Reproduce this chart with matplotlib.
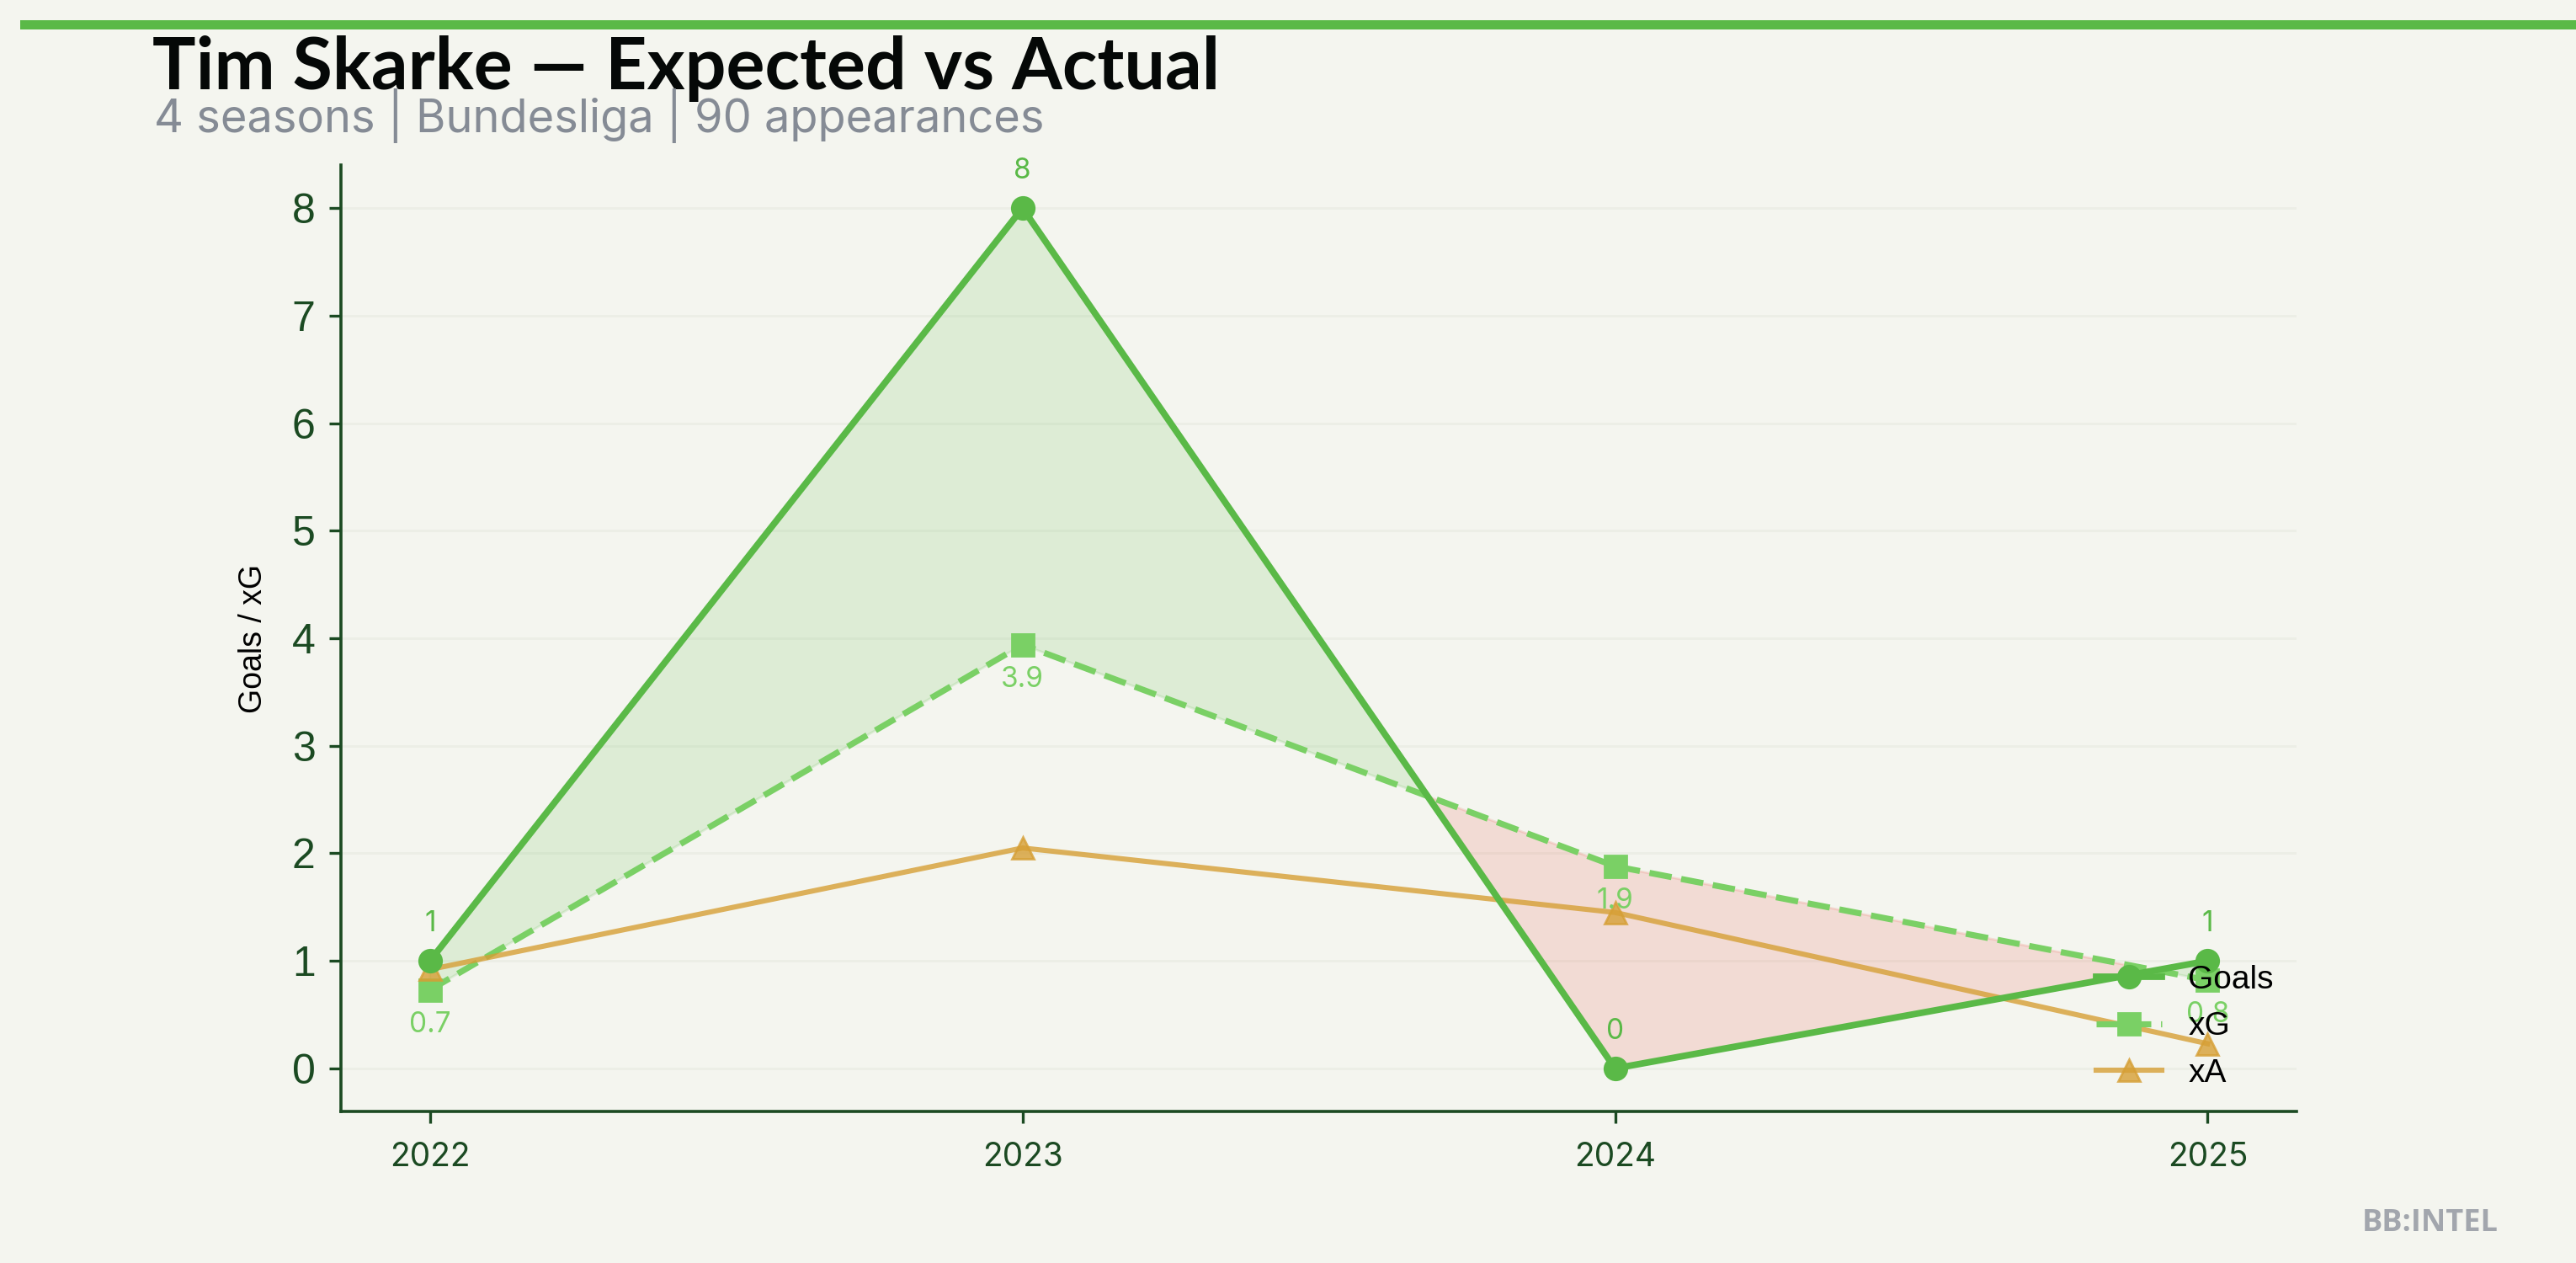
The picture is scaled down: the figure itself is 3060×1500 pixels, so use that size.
"""Tim Skarke — goals vs expected goals per season."""
import numpy as np
import matplotlib
matplotlib.use("Agg")
import matplotlib.pyplot as plt
from matplotlib.patches import Rectangle

# --- data -------------------------------------------------------------
SEASONS = [2022, 2023, 2024, 2025]
GOALS = [1, 8, 0, 1]
XG = [0.73, 3.94, 1.88, 0.82]
XA = [0.92, 2.05, 1.45, 0.23]
GOAL_LABELS = ["1", "8", "0", "1"]
XG_LABELS = ["0.7", "3.9", "1.9", "0.8"]

TITLE = "Tim Skarke — Expected vs Actual"
SUBTITLE = "4 seasons | Bundesliga | 90 appearances"

BG = "#f4f5ef"
GREEN = "#5ab947"
LGREEN = "#7ad065"
GOLD = "#d69f35"
RED = "#e74c3c"
DARK = "#1b4a22"

plt.rcParams["font.family"] = ["Inter", "DejaVu Sans"]

fig = plt.figure(figsize=(15.3, 7.5), dpi=200, facecolor=BG)
ax = fig.add_axes([0.1324, 0.12, 0.7591, 0.7493])
ax.set_facecolor(BG)

x = np.array(SEASONS, float)
g = np.array(GOALS, float)
xg = np.array(XG, float)

ax.fill_between(x, g, xg, where=g >= xg, interpolate=True, color=GREEN, alpha=0.15, zorder=1)
ax.fill_between(x, g, xg, where=g < xg, interpolate=True, color=RED, alpha=0.15, zorder=1)

ax.plot(x, g, color=GREEN, lw=2.8, marker="o", ms=9.5, label="Goals", zorder=4)
ax.plot(x, xg, color=LGREEN, lw=2.6, ls="--", marker="s", ms=9.5, label="xG", zorder=3)
ax.plot(x, XA, color=GOLD, lw=2.2, marker="^", ms=9.5, alpha=0.8, label="xA", zorder=3)

for xi, yi, t in zip(x, g, GOAL_LABELS):
    ax.annotate(t, (xi, yi), xytext=(0, 10), textcoords="offset points",
                ha="center", va="bottom", fontsize=12, color=GREEN)
for xi, yi, t in zip(x, xg, XG_LABELS):
    ax.annotate(t, (xi, yi), xytext=(0, -9), textcoords="offset points",
                ha="center", va="top", fontsize=12, color=LGREEN)

ax.set_xticks(SEASONS)
ax.set_xticklabels([str(s) for s in SEASONS])
ax.set_yticks(range(0, 9))
ax.tick_params(axis="x", labelsize=14, colors=DARK, length=5, width=1.2, pad=8)
ax.tick_params(axis="y", labelsize=18, colors=DARK, length=5, width=1.2, pad=6)
for lab in ax.get_yticklabels():
    lab.set_family(["Liberation Sans", "DejaVu Sans"])

ax.set_ylabel("Goals / xG", fontsize=13.5, color="black",
              family=["Liberation Sans", "DejaVu Sans"], labelpad=10)

for s in ("top", "right"):
    ax.spines[s].set_visible(False)
for s in ("left", "bottom"):
    ax.spines[s].set_color(DARK)
    ax.spines[s].set_linewidth(1.3)

ax.yaxis.grid(True, color="#eceee6", lw=1)
ax.set_axisbelow(True)

ax.legend(loc="lower right", frameon=False, borderaxespad=0.3,
          prop={"family": ["Liberation Sans", "DejaVu Sans"], "size": 14})

# header
fig.add_artist(Rectangle((24 / 3060, 1 - 35 / 1500), 1, 11 / 1500,
                         transform=fig.transFigure, color=GREEN, lw=0))
fig.text(181 / 3060, 1 - 106 / 1500, TITLE, fontsize=31, fontweight="bold",
         family=["Lato", "DejaVu Sans"], color="#050807", va="baseline")
fig.text(183 / 3060, 1 - 157 / 1500, SUBTITLE, fontsize=19.5, color="#858b95", va="baseline")
fig.text(2968 / 3060, 1 - 1462 / 1500, "BB:INTEL", fontsize=13, fontweight="bold",
         color="#a2a6ad", ha="right", va="baseline", family=["Open Sans", "DejaVu Sans"])

fig.savefig("out.png", dpi=200, facecolor=BG)
